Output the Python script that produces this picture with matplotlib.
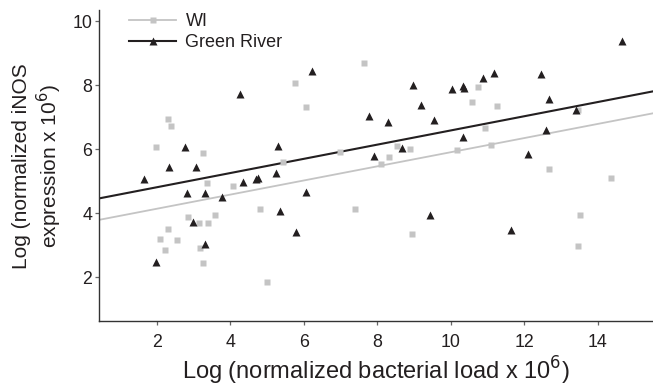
import numpy as np
import matplotlib
matplotlib.use('Agg')
import matplotlib.pyplot as plt
from matplotlib.lines import Line2D

# WI (grey squares)
wi_x = [2.30, 2.38, 1.98, 3.25, 5.43, 7.64, 5.76, 6.06, 10.75, 10.58,
        8.53, 8.89, 10.17, 6.99, 8.32, 8.10, 11.25, 13.47, 10.93, 11.08,
        12.67, 3.36, 4.07, 4.82, 2.84, 3.15, 3.39, 3.59, 2.31, 2.09,
        2.56, 2.23, 3.18, 3.26, 5.00, 7.40, 8.94, 14.35, 13.52, 13.46]
wi_y = [6.94, 6.74, 6.08, 5.89, 5.61, 8.71, 8.07, 7.33, 7.94, 7.49,
        6.10, 6.01, 5.99, 5.93, 5.77, 5.55, 7.35, 7.23, 6.66, 6.13,
        5.38, 4.94, 4.86, 4.12, 3.90, 3.71, 3.71, 3.96, 3.52, 3.19,
        3.18, 2.86, 2.93, 2.46, 1.86, 4.12, 3.36, 5.11, 3.95, 2.98]

# Green River (black triangles)
gr_x = [4.27, 2.77, 5.31, 2.34, 3.07, 6.23, 8.97, 10.03, 10.32, 10.37,
        9.18, 7.78, 8.30, 9.55, 10.33, 8.66, 7.90, 14.65, 11.17, 10.88,
        12.46, 12.67, 13.41, 12.59, 12.11, 1.65, 4.35, 4.69, 4.75, 5.25,
        2.82, 3.31, 3.78, 5.36, 2.98, 3.31, 1.98, 6.05, 5.79, 9.43, 11.63]
gr_y = [7.72, 6.08, 6.11, 5.46, 5.46, 8.45, 8.00, 7.87, 7.98, 7.91,
        7.38, 7.04, 6.86, 6.92, 6.38, 6.03, 5.79, 9.38, 8.39, 8.22,
        8.34, 7.56, 7.23, 6.60, 5.86, 5.08, 4.99, 5.07, 5.09, 5.25,
        4.64, 4.62, 4.50, 4.08, 3.73, 3.05, 2.48, 4.68, 3.42, 3.95, 3.48]

# regression lines (intercept, slope)
wi_fit = (3.70, 0.221)
gr_fit = (4.37, 0.222)

grey = '#c4c4c4'
dark = '#231f20'

plt.rcParams['font.family'] = ['Liberation Sans', 'DejaVu Sans']

fig = plt.figure(figsize=(6.53, 3.89), dpi=100)
ax = fig.add_axes([0.1516, 0.174, 0.8484, 0.80])

xlim = (0.43, 15.5)
ax.set_xlim(xlim)
ax.set_ylim(0.625, 10.35)

xs = np.array(xlim)
ax.plot(xs, wi_fit[0] + wi_fit[1] * xs, color=grey, lw=1.3, zorder=1)
ax.plot(xs, gr_fit[0] + gr_fit[1] * xs, color=dark, lw=1.5, zorder=1)

ax.plot(wi_x, wi_y, 's', color=grey, ms=4.8, mec='none', zorder=2)
ax.plot(gr_x, gr_y, '^', color=dark, ms=6.0, mec='none', zorder=3)

ax.set_xticks([2, 4, 6, 8, 10, 12, 14])
ax.set_yticks([2, 4, 6, 8, 10])
ax.tick_params(labelsize=12.8, length=3, width=0.9, color='#666666',
               labelcolor=dark)
ax.tick_params(axis='x', pad=6)
ax.tick_params(axis='y', pad=2)

for s in ['top', 'right']:
    ax.spines[s].set_visible(False)
for s in ['left', 'bottom']:
    ax.spines[s].set_color('#333333')
    ax.spines[s].set_linewidth(1.0)

ax.set_xlabel('Log (normalized bacterial load x 10$^6$)', fontsize=17,
              color=dark, labelpad=3)
ax.set_ylabel('Log (normalized iNOS\nexpression x 10$^6$)', fontsize=15,
              color=dark, labelpad=6, linespacing=1.15)

handles = [Line2D([], [], color=grey, lw=1.3, marker='s', ms=4.8, mec='none'),
           Line2D([], [], color=dark, lw=1.5, marker='^', ms=6.0, mec='none')]
ax.legend(handles, ['WI', 'Green River'], loc='upper left',
          bbox_to_anchor=(0.055, 0.99), frameon=False, fontsize=13,
          handlelength=2.6, handletextpad=0.5, labelspacing=0.2,
          borderpad=0, borderaxespad=0, labelcolor=dark)

fig.savefig('out.png', dpi=100)
